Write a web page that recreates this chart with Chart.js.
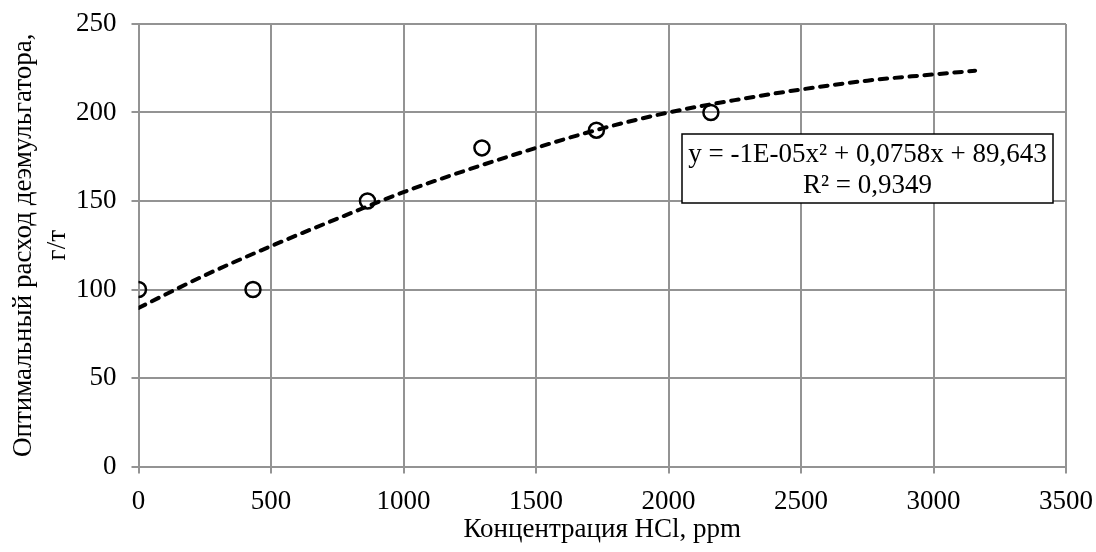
<!DOCTYPE html>
<html>
<head>
<meta charset="utf-8">
<script src="https://cdn.jsdelivr.net/npm/chart.js"></script>
<style>
  html, body { margin: 0; padding: 0; background: #fff; }
  canvas { display: block; }
</style>
</head>
<body>
<canvas id="grafico" width="1096" height="552"></canvas>
<script>
// точки измерений
const concHCl = [0, 432, 864, 1296, 1728, 2160];
const rashod = [100, 100, 150, 180, 190, 200];

// линия тренда
const trendX = [0, 250, 500, 750, 1000, 1250, 1500, 1750, 2000, 2250, 2500, 2750, 3000, 3157];
const trendY = [89.6, 108, 124.5, 140, 155, 168, 180, 191, 200, 207, 213, 218, 221.5, 223.6];

const xTicks = [0, 500, 1000, 1500, 2000, 2500, 3000, 3500];
const yTicks = [0, 50, 100, 150, 200, 250];

const eqLines = ['y = -1E-05x\u00B2 + 0,0758x + 89,643', 'R\u00B2 = 0,9349'];

const fontFam = '"Liberation Serif", "Times New Roman", serif';
const gridColor = '#939393';
const fs = 27;

// рамка с уравнением
const eqBox = {
    id: 'eqBox',
    afterDatasetsDraw(chart) {
        const ctx = chart.ctx;
        const left = 682, top = 134, w = 371, h = 69;
        ctx.save();
        ctx.fillStyle = '#fff';
        ctx.fillRect(left, top, w, h);
        ctx.strokeStyle = '#000';
        ctx.lineWidth = 1.5;
        ctx.strokeRect(left, top, w, h);
        ctx.fillStyle = '#000';
        ctx.font = fs + 'px ' + fontFam;
        ctx.textAlign = 'center';
        ctx.textBaseline = 'middle';
        ctx.fillText(eqLines[0], left + w / 2, top + 21);
        ctx.fillText(eqLines[1], left + w / 2, top + 52);
        ctx.restore();
    }
};

new Chart(document.getElementById('grafico'), {
    type: 'scatter',
    data: {
        datasets: [
            {
                label: 'данные',
                data: concHCl.map((x, i) => ({ x: x, y: rashod[i] })),
                pointStyle: 'circle',
                pointRadius: 7.5,
                pointBorderWidth: 2.5,
                pointBorderColor: '#000',
                pointBackgroundColor: 'rgba(0,0,0,0)',
                showLine: false,
                order: 1
            },
            {
                label: 'тренд',
                data: trendX.map((x, i) => ({ x: x, y: trendY[i] })),
                showLine: true,
                borderColor: '#000',
                borderWidth: 4,
                borderDash: [7.5, 7.5],
                borderCapStyle: 'round',
                pointRadius: 0,
                cubicInterpolationMode: 'monotone',
                fill: false,
                order: 2
            }
        ]
    },
    options: {
        responsive: false,
        animation: false,
        layout: { padding: { left: 0, top: 24, right: 30, bottom: 0 } },
        plugins: {
            legend: { display: false },
            tooltip: { enabled: false }
        },
        scales: {
            x: {
                type: 'linear',
                min: 0,
                max: 3500,
                afterBuildTicks: s => { s.ticks = xTicks.map(v => ({ value: v })); },
                afterFit: s => {
                    s.height = 85.5;
                    s.paddingLeft = 0;
                    s.paddingRight = 0;
                },
                grid: { color: gridColor, lineWidth: 2, tickLength: 7 },
                border: { color: gridColor, width: 2 },
                ticks: {
                    color: '#000',
                    font: { family: fontFam, size: fs },
                    padding: 12,
                    maxRotation: 0,
                    callback: v => String(v)
                },
                title: {
                    display: true,
                    text: 'Концентрация HCl, ppm',
                    color: '#000',
                    font: { family: fontFam, size: fs },
                    padding: { top: 0, bottom: 6 }
                }
            },
            y: {
                min: 0,
                max: 250,
                afterBuildTicks: s => { s.ticks = yTicks.map(v => ({ value: v })); },
                afterFit: s => {
                    s.width = 138.5;
                    s.paddingTop = 0;
                    s.paddingBottom = 0;
                },
                grid: { color: gridColor, lineWidth: 2, tickLength: 7 },
                border: { color: gridColor, width: 2 },
                ticks: {
                    color: '#000',
                    font: { family: fontFam, size: fs },
                    padding: 15,
                    callback: v => String(v)
                },
                title: {
                    display: true,
                    text: ['Оптимальный расход деэмульгатора,', 'г/т'],
                    color: '#000',
                    font: { family: fontFam, size: fs, lineHeight: 1.25 },
                    padding: { top: 7, bottom: 0 }
                }
            }
        }
    },
    plugins: [eqBox]
});
</script>
</body>
</html>
